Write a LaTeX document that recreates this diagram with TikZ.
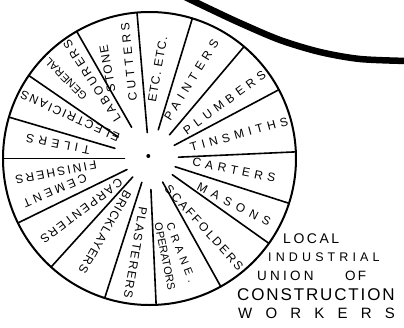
\documentclass[tikz,border=0pt]{standalone}
\usepackage{fontspec}
\setmainfont{Liberation Sans}
\newcommand{\trk}[1]{\addfontfeature{LetterSpace=#1}}
\tikzset{
  rim/.style={line width=2pt},
  spoke/.style={line width=1.6pt, line cap=round},
  sector/.style={inner sep=0pt},
  title/.style={inner sep=0pt, anchor=base west},
}
\begin{document}
\begin{tikzpicture}[x=1pt,y=1pt]
  % frame, origin at the hub of the wheel
  \useasboundingbox (-149.5,-168.5) rectangle (254.5,158.5);

  % heavy line at top right
  \draw[line width=6.5pt, line cap=round] plot[smooth] coordinates
    {(35.5,161.5) (60.5,149.5) (90.5,135.5) (130.5,118.5) (170.5,106.5) (210.5,99.5) (258.5,97.5)};

  % wheel and hub
  \draw[rim] (0,0) circle (146.5);
  \fill (-1.2,2.5) circle (2);

  % spokes
  \foreach \a/\r in {94.9/26, 73/30, 49.8/31, 28/28, 2.6/29, -17.8/27, -35.4/28, -60.9/27,
                     -87.4/31, -107.8/25, -132.2/25, -153.9/25, 180/25, 163.6/36, 145.5/38, 119.8/36}
    \draw[spoke] (\a:\r) -- (\a:146.5);

  % trades, one line of text each
  \foreach \px/\py/\rot/\fs/\ls/\txt [count=\i] in {
      8/89/80/12/10/{ETC.\ ETC.},
      -42/90/100/12/14/STONE,
      -20.5/96.5/96/12/30/CUTTERS,
      -83.5/79.5/135/11/3/GENERAL,
      -57.5/77.5/123/12/22/LABOURERS,
      -79.5/42.5/156/12/15/ELECTRICIANS,
      -91.5/14.5/169/12/38/TILERS,
      -93.5/-14/-169/12/19/FINISHERS,
      -94.5/-32/-157/12/29/CEMENT,
      -68/-52.5/-143/12/16/CARPENTERS,
      -44.5/-73.5/-120/12/8/BRICKLAYERS,
      -14/-94/-99.6/12/12/PLASTERERS,
      31.5/-94/-68.5/11/38/CRANE.,
      15.5/-98/-78.4/11/0/OPERATORS,
      54.5/-69/-47.6/12/18/SCAFFOLDERS,
      84.5/-46/-27.2/12/48/MASONS,
      84.5/-11.5/-11.6/12/38/CARTERS,
      89.5/24/15.2/12/38/TINSMITHS,
      75/56/36.3/12/39/PLUMBERS,
      42/78.5/58.3/12/40/PAINTERS}
    \node[sector, rotate=\rot, font=\fontsize{\fs}{\fs}\selectfont\trk{\ls}] (s\i) at (\px,\py) {\txt};

  % name of the union
  \node[title, font=\fontsize{14}{14}\selectfont\trk{18}] (t1) at (133.5,-84.5) {LOCAL};
  \node[title, font=\fontsize{12.5}{12.5}\selectfont\trk{33}] (t2) at (118.5,-102.5) {INDUSTRIAL};
  \node[title, font=\fontsize{13.5}{13.5}\selectfont\trk{24}] (t3) at (107.5,-121.5) {UNION};
  \node[title, font=\fontsize{13.5}{13.5}\selectfont\trk{16}] (t4) at (195.5,-121.5) {OF};
  \node[title, font=\fontsize{17}{17}\selectfont\trk{11}] (t5) at (87.5,-141.5) {CONSTRUCTION};
  \node[title, font=\fontsize{15}{15}\selectfont\trk{88}] (t6) at (88.5,-159.5) {WORKERS};
\end{tikzpicture}
\end{document}
